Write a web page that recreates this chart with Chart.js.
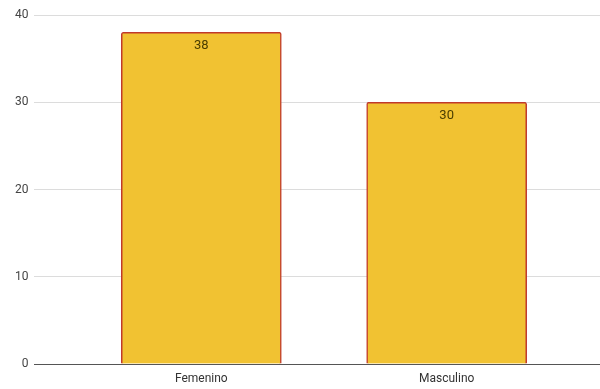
<!DOCTYPE html>
<html><head><meta charset="utf-8">
<script src="https://cdn.jsdelivr.net/npm/chart.js@4"></script>
<style>html,body{margin:0;padding:0;background:#fff}#wrap{width:600px;height:389px}</style>
</head><body><div id="wrap"><canvas id="c"></canvas></div>
<script>
const categories = ['Femenino', 'Masculino'];
const values = [38, 30];
const yTicks = [0, 10, 20, 30, 40];

const labelPlugin = {
  id: 'barLabels',
  afterDatasetsDraw(chart) {
    const ctx = chart.ctx;
    const meta = chart.getDatasetMeta(0);
    ctx.save();
    ctx.font = '13px Roboto, "Open Sans", sans-serif';
    ctx.fillStyle = '#4a3d00';
    ctx.textAlign = 'center';
    ctx.textBaseline = 'top';
    meta.data.forEach((bar, i) => {
      ctx.fillText(String(values[i]), bar.x, bar.y + 7);
    });
    ctx.restore();
  }
};

new Chart(document.getElementById('c'), {
  type: 'bar',
  data: {
    datasets: [{
      data: values.map((v, i) => ({x: i, y: v})),
      backgroundColor: '#F1C232',
      borderColor: '#C0392B',
      borderWidth: 1.5,
      borderRadius: 2,
      borderSkipped: 'bottom',
      barThickness: 160
    }]
  },
  options: {
    responsive: true,
    maintainAspectRatio: false,
    animation: false,
    layout: {padding: {top: 15, right: 0, left: 9, bottom: 0}},
    plugins: {legend: {display: false}, tooltip: {enabled: false}},
    scales: {
      x: {
        type: 'linear',
        offset: false,
        min: -0.68,
        max: 1.625,
        afterBuildTicks(scale) { scale.ticks = categories.map((_, i) => ({value: i})); },
        afterFit(scale) { scale.height = 25; },
        ticks: {
          callback: (v) => categories[v],
          color: '#333',
          font: {size: 12, family: 'Roboto, "Open Sans", sans-serif'},
          padding: 8,
          maxRotation: 0
        },
        grid: {display: false, drawTicks: false, offset: false},
        border: {display: true, color: '#555', width: 1}
      },
      y: {
        min: 0,
        max: 40,
        afterBuildTicks(scale) { scale.ticks = yTicks.map(v => ({value: v})); },
        ticks: {
          color: '#444',
          font: {size: 12, family: 'Roboto, "Open Sans", sans-serif'},
          padding: 6
        },
        grid: {
          color: (c) => c.tick && c.tick.value === 0 ? '#555' : '#dcdcdc',
          drawTicks: false
        },
        border: {display: false}
      }
    }
  },
  plugins: [labelPlugin]
});
</script>
</body></html>
